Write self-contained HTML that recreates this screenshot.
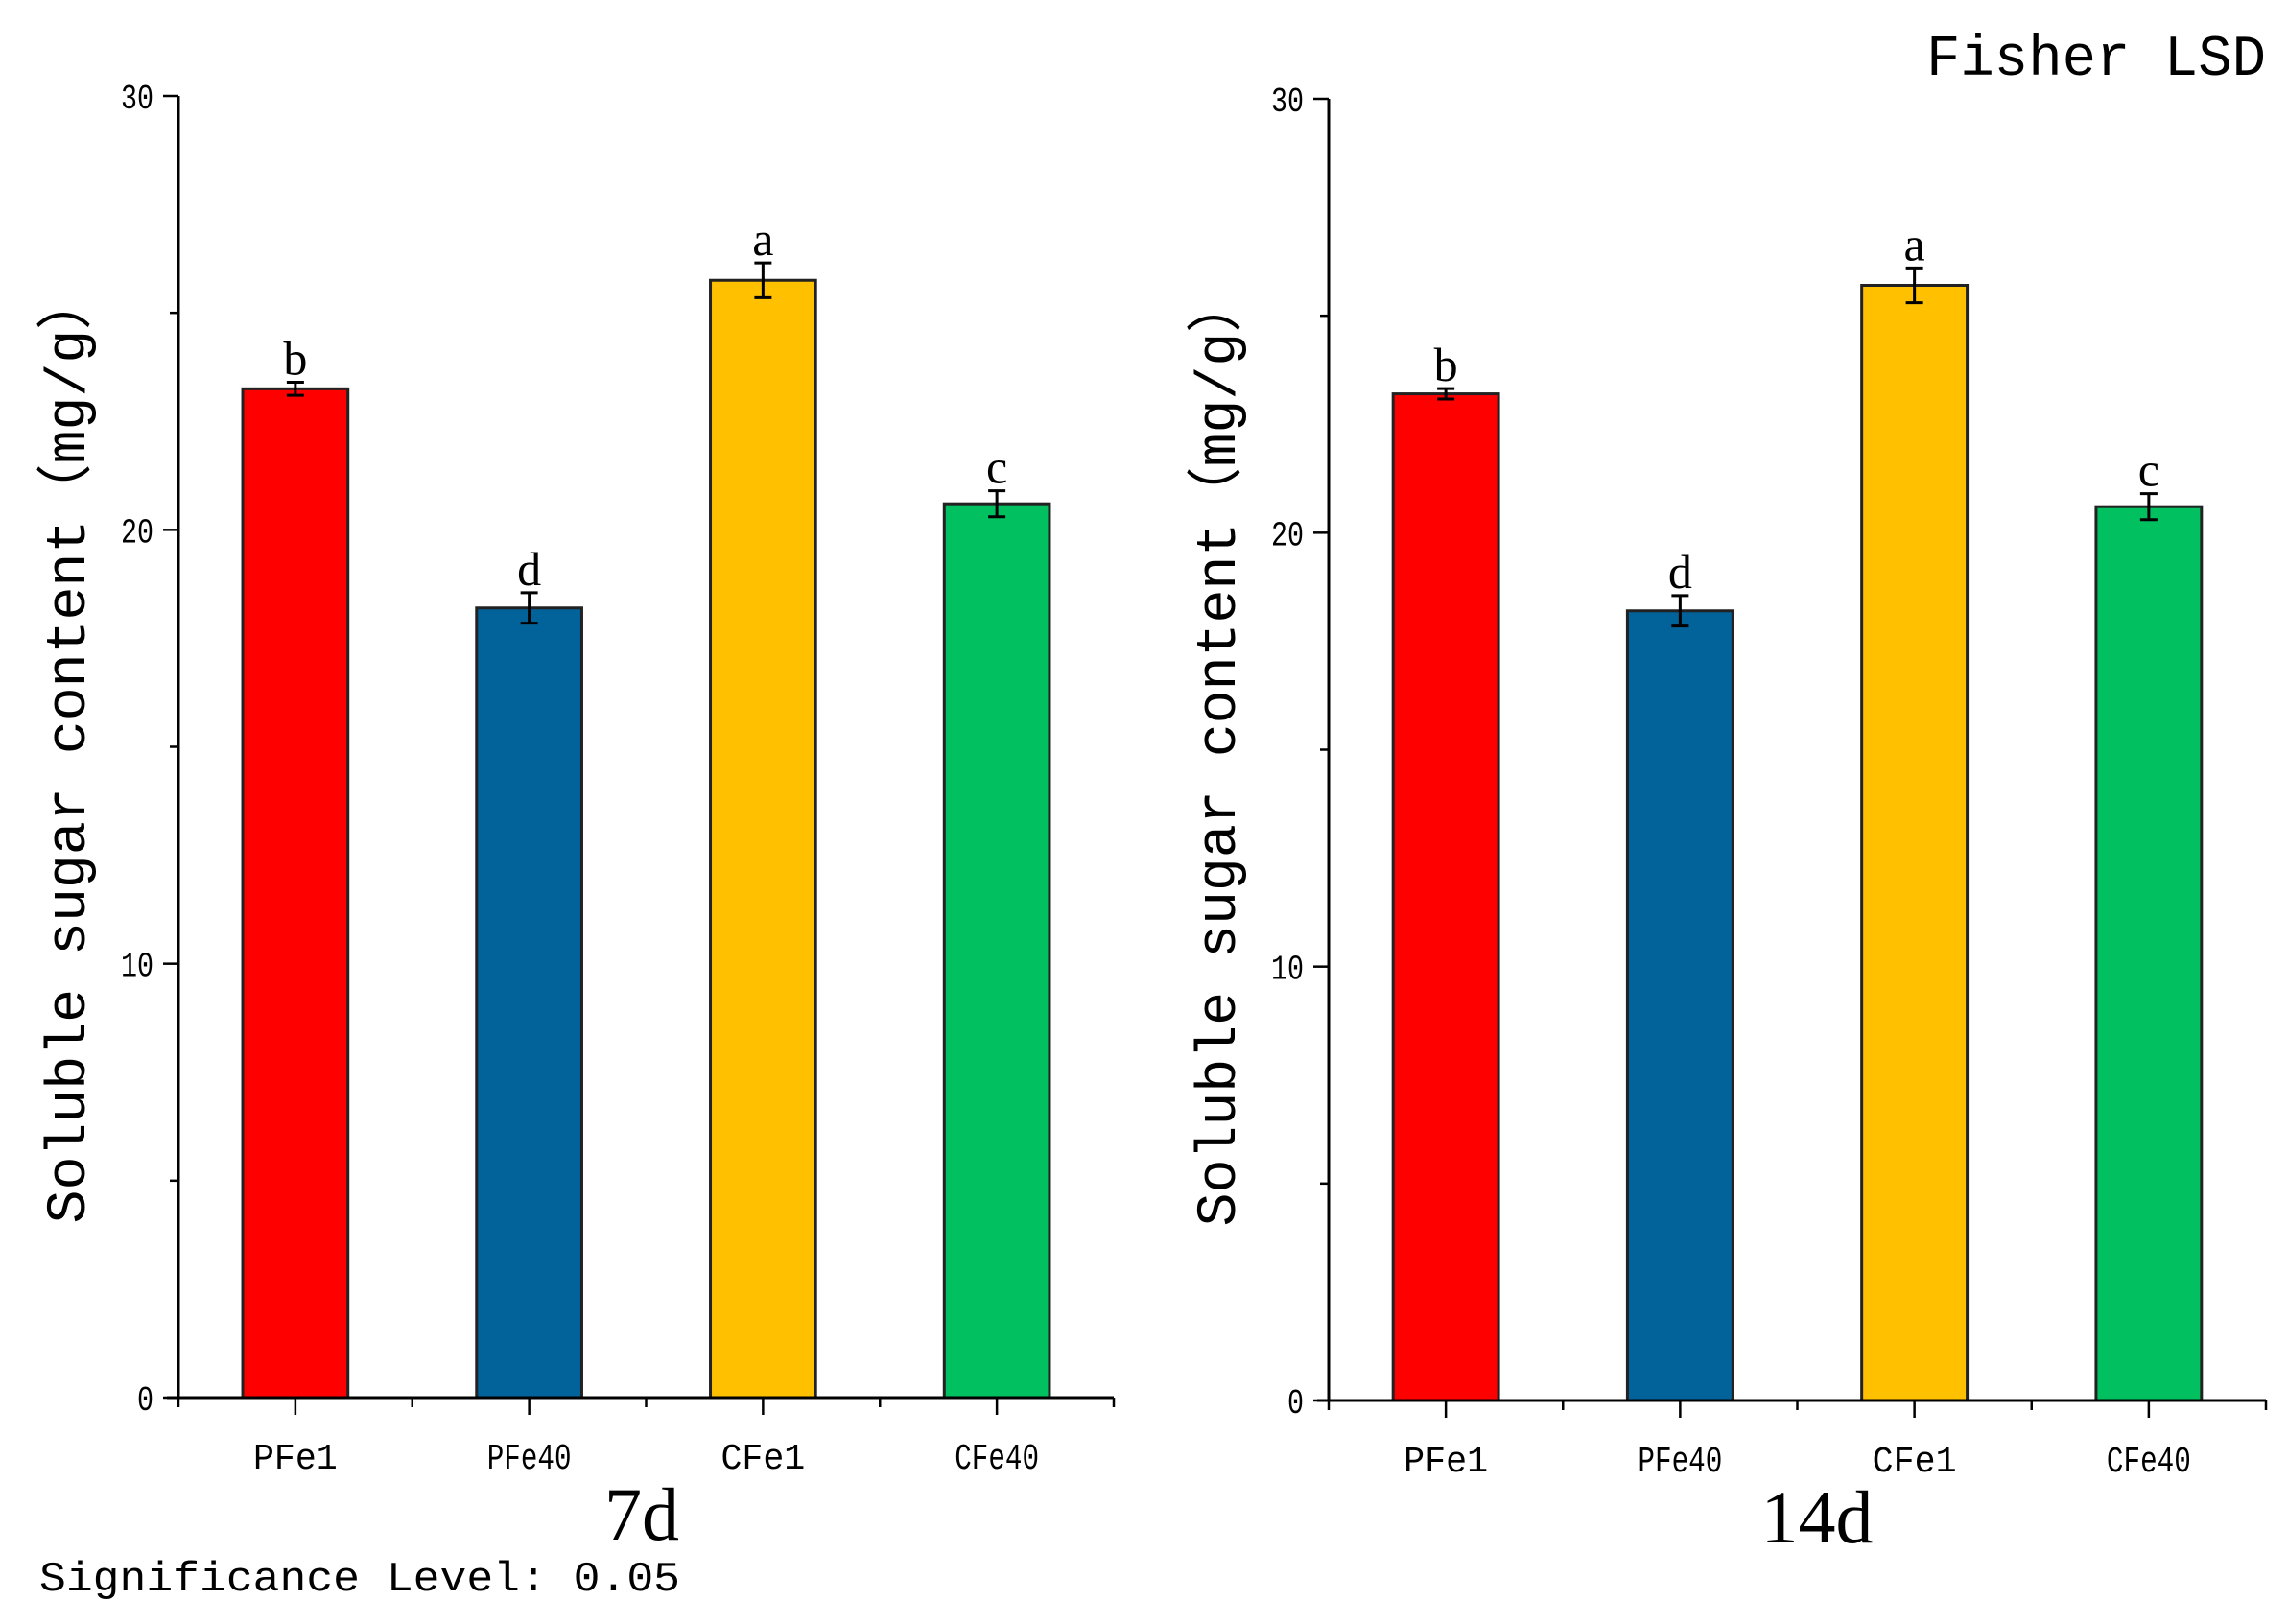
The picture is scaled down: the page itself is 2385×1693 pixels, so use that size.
<!DOCTYPE html>
<html><head><meta charset="utf-8"><style>
html,body{margin:0;padding:0;background:#fff;}
svg{display:block;}
text{font-family:"Liberation Mono","Noto Sans CJK SC",monospace;fill:#000;}
.serif{font-family:"Liberation Serif","Noto Serif CJK SC",serif;}
</style></head><body>
<svg id="chart" width="2385" height="1693" viewBox="0 0 2385 1693" xmlns="http://www.w3.org/2000/svg">
<text x="2362" y="78" font-size="60" text-anchor="end" textLength="354" lengthAdjust="spacingAndGlyphs">Fisher LSD</text>
<text x="41" y="1658" font-size="44" textLength="668" lengthAdjust="spacingAndGlyphs">Significance Level: 0.05</text>
</svg>
<script>
const categories = ["PFe1","PFe40","CFe1","CFe40"];
const colors = ["#ff0000","#02629a","#ffc000","#00c060"];
const values7d = [23.25, 18.2, 25.75, 20.6];
const errors7d = [0.15, 0.35, 0.4, 0.3];
const letters7d = ["b","d","a","c"];
const values14d = [23.2, 18.2, 25.7, 20.6];
const errors14d = [0.12, 0.35, 0.4, 0.3];
const letters14d = ["b","d","a","c"];
const yTicks = [0,10,20,30];
const yMinor = [5,15,25];
const panelTitles = ["7d","14d"];

const svg = document.getElementById('chart');
const NS = 'http://www.w3.org/2000/svg';
function mk(tag, attrs, parent){
  const e = document.createElementNS(NS, tag);
  for (const k in attrs) e.setAttribute(k, attrs[k]);
  (parent||svg).appendChild(e);
  return e;
}
const panels = [
  {x0:186, x1:1161, y0:1457, y30:100, vals:values7d, errs:errors7d, lets:letters7d, title:panelTitles[0], titleX:669, ylabX:68},
  {x0:1385, x1:2362, y0:1460, y30:103, vals:values14d, errs:errors14d, lets:letters14d, title:panelTitles[1], titleX:1894, ylabX:1267}
];
panels.forEach((p, pi) => {
  const g = mk('g', {});
  
  
  const ys = v => p.y0 - (v/30)*(p.y0 - p.y30);
  const step = (p.x1 - p.x0)/categories.length;
  const xc = i => p.x0 + step*(i+0.5);
  const bw = step*0.45;
  categories.forEach((c, i) => {
    const r = mk('rect', {x:xc(i)-bw/2, y:ys(p.vals[i]), width:bw, height:ys(0)-ys(p.vals[i]), fill:colors[i], stroke:'#222', 'stroke-width':3}, g);
    
    
    const hi = ys(p.vals[i]+p.errs[i]), lo = ys(p.vals[i]-p.errs[i]);
    const eb = mk('path', {d:`M${xc(i)} ${hi}V${lo}M${xc(i)-9} ${hi}H${xc(i)+9}M${xc(i)-9} ${lo}H${xc(i)+9}`, stroke:'#000', 'stroke-width':3, fill:'none'}, g);
    
    
    const t = mk('text', {x:xc(i), y:hi-8, 'font-size':50, 'text-anchor':'middle', class:'serif'}, g);
    t.textContent = p.lets[i];
    
    
    const xl = mk('text', {x:xc(i), y:p.y0+74, 'font-size':38, 'text-anchor':'middle', textLength:bw*0.8, lengthAdjust:'spacingAndGlyphs'}, g);
    xl.textContent = c;
    
    
    const tk = mk('line', {x1:xc(i), x2:xc(i), y1:p.y0, y2:p.y0+18, stroke:'#000', 'stroke-width':2.5}, g);
    
    
  });
  for (let i=0;i<=categories.length;i++){
    const mt = mk('line', {x1:p.x0+step*i, x2:p.x0+step*i, y1:p.y0, y2:p.y0+10, stroke:'#000', 'stroke-width':2.5}, g);
    
    
  }
  const ax = mk('path', {d:`M${p.x0} ${p.y30}V${p.y0}M${p.x0-12} ${p.y0}H${p.x1}`, stroke:'#000', 'stroke-width':3, fill:'none'}, g);
  
  
  yTicks.forEach(v => {
    const l = mk('line', {x1:p.x0-16, x2:p.x0, y1:ys(v), y2:ys(v), stroke:'#000', 'stroke-width':2.5}, g);
    
    
    const t = mk('text', {x:p.x0-26, y:ys(v)+13, 'font-size':36, 'text-anchor':'end', textLength: String(v).length*17, lengthAdjust:'spacingAndGlyphs'}, g);
    t.textContent = v;
    
    
  });
  yMinor.forEach(v => {
    const l = mk('line', {x1:p.x0-9, x2:p.x0, y1:ys(v), y2:ys(v), stroke:'#000', 'stroke-width':2.5}, g);
    
    
  });
  const cy = (ys(0)+ys(30))/2 + 2;
  const yl = mk('text', {x:0, y:0, 'font-size':58, 'text-anchor':'middle', fill:'#222', transform:`translate(${p.ylabX+20},${cy}) rotate(-90)`, textLength:990, lengthAdjust:'spacingAndGlyphs'}, g);
  yl.textContent = 'Soluble sugar content（mg/g）';
  
  
  const tt = mk('text', {x:p.titleX, y:p.y0+148, 'font-size':78, 'text-anchor':'middle', class:'serif'}, g);
  tt.textContent = p.title;
  
  
});
</script>
</body></html>
